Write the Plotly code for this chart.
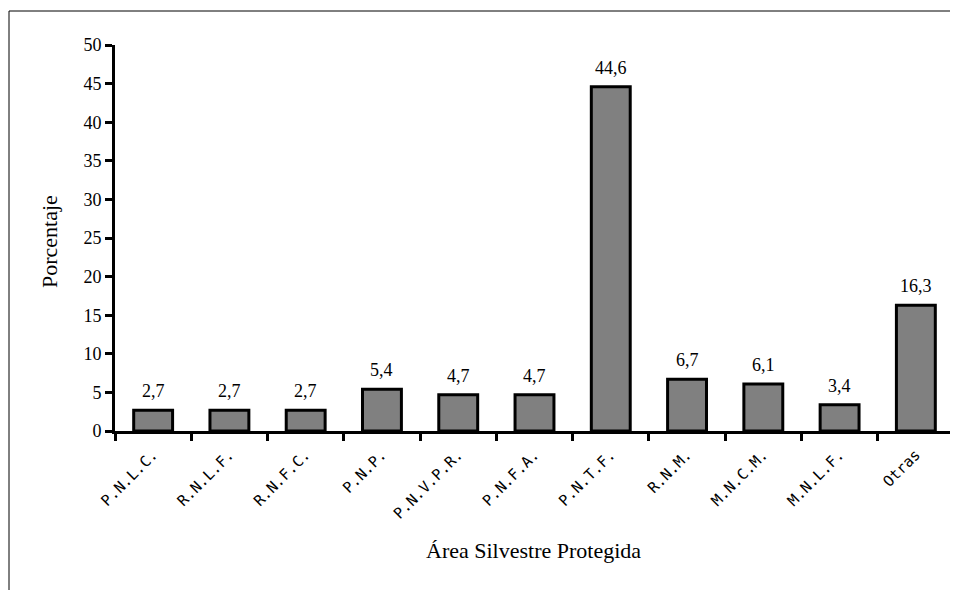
import plotly.graph_objects as go

categories = ["P.N.L.C.", "R.N.L.F.", "R.N.F.C.", "P.N.P.", "P.N.V.P.R.", "P.N.F.A.",
              "P.N.T.F.", "R.N.M.", "M.N.C.M.", "M.N.L.F.", "Otras"]
values = [2.7, 2.7, 2.7, 5.4, 4.7, 4.7, 44.6, 6.7, 6.1, 3.4, 16.3]
labels = [f"{v:.1f}".replace(".", ",") for v in values]

# page has 8px body margin; compensate so the picture lands where the reference is
OFF = 8
W, H = 958 - OFF, 590 - OFF
PL, PR, PT, PB = 115, 954, 45, 431          # plot area in page pixels
L, R, T, B = PL - OFF, W - (PR - OFF), PT - OFF, H - (PB - OFF)
PW, PH = W - L - R, H - T - B


def px(xp):
    return (xp - OFF - L) / PW


def py(yp):
    return (H - B - (yp - OFF)) / PH


serif = "Liberation Serif"

fig = go.Figure(go.Bar(
    x=categories, y=values,
    marker=dict(color="#808080", line=dict(color="black", width=3)),
))

annotations = [
    dict(x=c, y=v, text=t, xref="x", yref="y", showarrow=False,
         yanchor="bottom", yshift=7,
         font=dict(family=serif, size=18, color="black"))
    for c, v, t in zip(categories, values, labels)
]
annotations.append(dict(text="Porcentaje", xref="paper", yref="paper",
                        x=px(49), y=py(242), textangle=-90, showarrow=False,
                        xanchor="center", yanchor="middle",
                        font=dict(family=serif, size=22, color="black")))
annotations.append(dict(text="Área Silvestre Protegida", xref="paper", yref="paper",
                        x=px(533), y=py(550), showarrow=False,
                        xanchor="center", yanchor="middle",
                        font=dict(family=serif, size=22, color="black")))

fig.update_layout(
    width=W, height=H,
    margin=dict(l=L, r=R, t=T, b=B),
    paper_bgcolor="white", plot_bgcolor="white",
    bargap=0.49, showlegend=False,
    font=dict(family=serif, color="black"),
    xaxis=dict(
        showline=True, linecolor="black", linewidth=3,
        ticks="outside", tickson="boundaries", ticklen=7, tickwidth=3, tickcolor="black",
        tickangle=-45, ticklabelstandoff=6,
        tickfont=dict(family="DejaVu Sans Mono", size=15, color="black"),
        showgrid=False, zeroline=False,
    ),
    yaxis=dict(
        range=[0, 50], dtick=5, showline=True, linecolor="black", linewidth=3,
        ticks="outside", ticklen=7, tickwidth=3, tickcolor="black",
        tickfont=dict(family=serif, size=18, color="black"),
        showgrid=False, zeroline=False,
    ),
    annotations=annotations,
    shapes=[dict(type="rect", xref="paper", yref="paper",
                 x0=px(9), x1=px(970), y0=py(600), y1=py(11),
                 line=dict(color="black", width=1), layer="below")],
)

fig.write_html("out.html")
